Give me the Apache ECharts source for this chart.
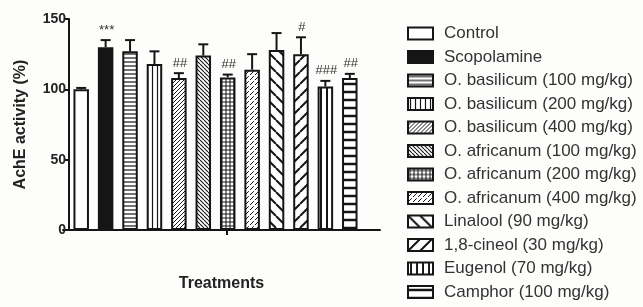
<!DOCTYPE html>
<html>
<head>
<meta charset="utf-8">
<script src="https://cdn.jsdelivr.net/npm/echarts@6/dist/echarts.min.js"></script>
<style>
  html, body { margin: 0; padding: 0; background: #fdfdfb; }
  #chart { width: 643px; height: 307px; }
</style>
</head>
<body>
<div id="chart"></div>
<script>
// treatments, AchE activity (% of control), SEM and significance marks
var categories = ['Control', 'Scopolamine', 'O. basilicum (100 mg/kg)', 'O. basilicum (200 mg/kg)',
  'O. basilicum (400 mg/kg)', 'O. africanum (100 mg/kg)', 'O. africanum (200 mg/kg)',
  'O. africanum (400 mg/kg)', 'Linalool (90 mg/kg)', '1,8-cineol (30 mg/kg)',
  'Eugenol (70 mg/kg)', 'Camphor (100 mg/kg)'];
var means = [100, 130, 127, 118, 108, 124, 108.5, 114, 128, 125, 102, 108];
var errors = [1, 5, 8, 9, 3.5, 8, 2, 11, 12, 12, 4, 3];
var marks = ['', '***', '', '', '##', '', '##', '', '', '#', '###', '##'];
var yTicks = [0, 50, 100, 150];

var font = "'Liberation Sans', Arial, sans-serif";
var ink = '#151515';

// canvas fill patterns
var makePattern = function(size, draw) {
  var c = document.createElement('canvas');
  c.width = size;
  c.height = size;
  var ctx = c.getContext('2d');
  ctx.fillStyle = '#ffffff';
  ctx.fillRect(0, 0, size, size);
  ctx.strokeStyle = ink;
  ctx.fillStyle = ink;
  draw(ctx, size);
  return { image: c, repeat: 'repeat' };
};
var hLines = function(lw) {
  return function(ctx, s) { ctx.lineWidth = lw; ctx.beginPath(); ctx.moveTo(0, s / 2); ctx.lineTo(s, s / 2); ctx.stroke(); };
};
var vLines = function(lw) {
  return function(ctx, s) { ctx.lineWidth = lw; ctx.beginPath(); ctx.moveTo(s / 2, 0); ctx.lineTo(s / 2, s); ctx.stroke(); };
};
var slash = function(lw) {
  return function(ctx, s) {
    ctx.lineWidth = lw;
    ctx.beginPath();
    [-s, 0, s].forEach(function(k) { ctx.moveTo(k, s); ctx.lineTo(k + s, 0); });
    ctx.stroke();
  };
};
var backslash = function(lw) {
  return function(ctx, s) {
    ctx.lineWidth = lw;
    ctx.beginPath();
    [-s, 0, s].forEach(function(k) { ctx.moveTo(k, 0); ctx.lineTo(k + s, s); });
    ctx.stroke();
  };
};
var both = function(a, b) {
  return function(ctx, s) { a(ctx, s); b(ctx, s); };
};

var fills = [
  '#ffffff',
  ink,
  makePattern(4, hLines(1.2)),
  makePattern(5, vLines(1.2)),
  makePattern(4, slash(1)),
  makePattern(4, backslash(1.1)),
  makePattern(4, both(hLines(1), vLines(1))),
  makePattern(5, both(slash(1), function(ctx, s) { ctx.fillStyle = '#fff'; ctx.fillRect(0, 0, s, 1.2); })),
  makePattern(12, backslash(2)),
  makePattern(12, slash(2)),
  makePattern(6, vLines(2)),
  makePattern(8, hLines(2.5))
];

var series = categories.map(function(name, i) {
  return {
    name: name,
    type: 'bar',
    barWidth: 15.5,
    barGap: '-100%',
    data: categories.map(function(c, j) { return j === i ? means[j] : '-'; }),
    itemStyle: { color: fills[i], borderColor: ink, borderWidth: 2 },
    emphasis: { disabled: true },
    animation: false
  };
});

series.push({
  type: 'custom',
  name: 'error',
  z: 5,
  animation: false,
  data: means.map(function(m, i) { return [i, m, errors[i]]; }),
  renderItem: function(params, api) {
    var base = api.coord([api.value(0), api.value(1)]);
    var top = api.coord([api.value(0), api.value(1) + api.value(2)]);
    var half = 5;
    var style = { stroke: ink, lineWidth: 2 };
    return {
      type: 'group',
      children: [
        { type: 'line', shape: { x1: base[0], y1: base[1], x2: top[0], y2: top[1] }, style: style },
        { type: 'line', shape: { x1: top[0] - half, y1: top[1], x2: top[0] + half, y2: top[1] }, style: style },
        {
          type: 'text',
          x: top[0] + 1,
          y: top[1] - 10,
          style: {
            text: marks[params.dataIndex],
            fill: '#333',
            font: '13px ' + font,
            align: 'center',
            verticalAlign: 'middle'
          }
        }
      ]
    };
  }
});

var chart = echarts.init(document.getElementById('chart'));
chart.setOption({
  backgroundColor: '#fdfdfb',
  animation: false,
  grid: [
    { left: 69, right: 281, top: 19, bottom: 77 },
    { left: 63, right: 263, top: 19, bottom: 77 }
  ],
  legend: {
    orient: 'vertical',
    left: 407,
    top: 25,
    padding: 0,
    itemWidth: 25,
    itemHeight: 12,
    itemGap: 6.5,
    icon: 'rect',
    selectedMode: false,
    data: categories,
    textStyle: { fontSize: 17, color: '#333', fontFamily: font, padding: [0, 0, 0, 6] }
  },
  xAxis: [
    {
      type: 'category',
      gridIndex: 0,
      data: categories,
      axisLine: { show: false },
      axisTick: { show: false },
      axisLabel: { show: false }
    },
    {
      type: 'value',
      gridIndex: 1,
      min: 0,
      max: 1,
      name: 'Treatments',
      nameLocation: 'middle',
      nameGap: 46,
      nameTextStyle: { fontSize: 16, fontWeight: 'bold', color: '#222', fontFamily: font },
      axisLine: { lineStyle: { color: ink, width: 2 } },
      axisTick: { show: true, customValues: [0.517], length: 5, lineStyle: { color: ink, width: 2 } },
      axisLabel: { show: false },
      splitLine: { show: false }
    }
  ],
  yAxis: [
    {
      type: 'value',
      gridIndex: 0,
      min: 0,
      max: 150,
      interval: 50,
      name: 'AchE activity (%)',
      nameLocation: 'middle',
      nameGap: 40,
      nameTextStyle: { fontSize: 16, fontWeight: 'bold', color: '#222', fontFamily: font },
      axisLine: { show: true, lineStyle: { color: ink, width: 2 } },
      axisTick: { show: true, length: 4, lineStyle: { color: ink, width: 2 } },
      axisLabel: {
        fontSize: 14, fontWeight: 'bold', color: '#222', fontFamily: font, margin: 3,
        formatter: function(v) { return yTicks.indexOf(v) >= 0 ? String(v) : ''; }
      },
      splitLine: { show: false }
    },
    {
      type: 'value',
      gridIndex: 1,
      show: false
    }
  ],
  series: series
});
</script>
</body>
</html>
